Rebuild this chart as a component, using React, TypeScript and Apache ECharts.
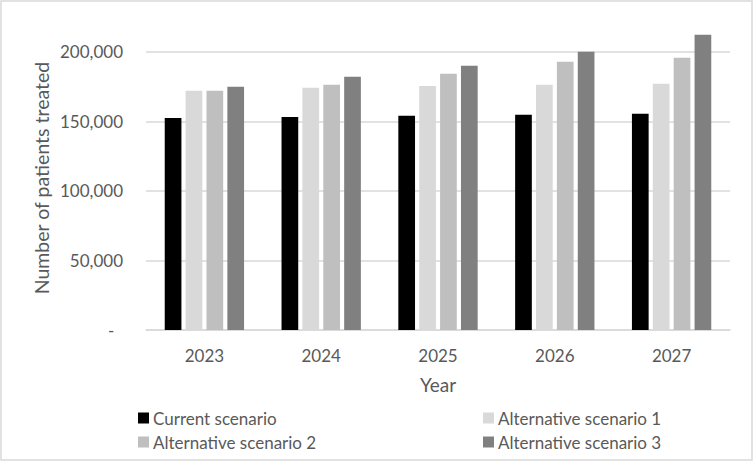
import React, { useEffect, useRef } from "react";
import * as echarts from "echarts";

const years = ["2023", "2024", "2025", "2026", "2027"];
const seriesNames = [
  "Current scenario",
  "Alternative scenario 1",
  "Alternative scenario 2",
  "Alternative scenario 3",
];
const currentScenario = [152500, 153200, 154000, 154700, 155400];
const alternative1 = [172000, 174100, 175500, 176300, 177000];
const alternative2 = [172000, 176300, 184200, 192800, 195700];
const alternative3 = [174800, 182000, 189900, 200000, 212200];
const seriesColors = ["#000000", "#D9D9D9", "#BFBFBF", "#808080"];
const yAxisTitle = "Number of patients treated";
const xAxisTitle = "Year";

const FONT = "Lato, 'Open Sans', sans-serif";
const TEXT = "#595959";

export default function App() {
  const ref = useRef<HTMLDivElement>(null);
  useEffect(() => {
    if (!ref.current) return;
    const chart = echarts.init(ref.current, undefined, { renderer: "svg" });
    const values = [currentScenario, alternative1, alternative2, alternative3];
    const legendBase = {
      orient: "vertical",
      top: 409,
      height: 50,
      padding: 0,
      itemWidth: 11,
      itemHeight: 11,
      itemGap: 6,
      icon: "rect",
      textStyle: { color: TEXT, fontSize: 17, lineHeight: 18, fontFamily: FONT, padding: [0, 0, 0, -1] },
    };
    chart.setOption({
      animation: false,
      backgroundColor: "#FFFFFF",
      textStyle: { fontFamily: FONT },
      graphic: [
        {
          type: "rect",
          shape: { x: 1, y: 1, width: 751, height: 459 },
          style: { fill: "none", stroke: "#D9D9D9", lineWidth: 1.5 },
          silent: true,
        },
        {
          type: "text",
          x: 41,
          y: 178,
          rotation: Math.PI / 2,
          silent: true,
          style: {
            text: yAxisTitle,
            fill: TEXT,
            font: `19.5px ${FONT}`,
            align: "center",
            verticalAlign: "middle",
          },
        },
      ],
      legend: [
        { ...legendBase, data: [seriesNames[0], seriesNames[2]], left: 138 },
        { ...legendBase, data: [seriesNames[1], seriesNames[3]], left: 483 },
      ],
      grid: { left: 146, right: 24, top: 24, bottom: 132, containLabel: false },
      xAxis: {
        type: "category",
        data: years,
        name: xAxisTitle,
        nameLocation: "middle",
        nameGap: 45,
        nameTextStyle: { color: TEXT, fontSize: 19, fontFamily: FONT },
        axisTick: { show: false },
        axisLine: { lineStyle: { color: "#D9D9D9", width: 1.5 } },
        axisLabel: { color: TEXT, fontSize: 17, fontFamily: FONT, margin: 17 },
      },
      yAxis: {
        type: "value",
        min: 0,
        max: 220000,
        interval: 50000,
        axisLine: { show: false },
        axisTick: { show: false },
        splitLine: { show: true, showMaxLine: false, lineStyle: { color: "#D9D9D9", width: 1.5 } },
        axisLabel: {
          color: TEXT,
          fontSize: 17,
          fontFamily: FONT,
          margin: 23,
          showMaxLabel: false,
          formatter: (v: number) => (v === 0 ? "-  " : v % 50000 === 0 ? v.toLocaleString("en-US") : ""),
        },
      },
      series: seriesNames.map((name, i) => ({
        name,
        type: "bar",
        data: values[i],
        barWidth: "14.3%",
        barGap: "25%",
        itemStyle: { color: seriesColors[i] },
      })),
    });
    return () => chart.dispose();
  }, []);
  return (
    <div style={{ position: "fixed", left: 0, top: 0, width: 754, height: 462 }}>
      <div ref={ref} style={{ width: 754, height: 462 }} />
    </div>
  );
}
